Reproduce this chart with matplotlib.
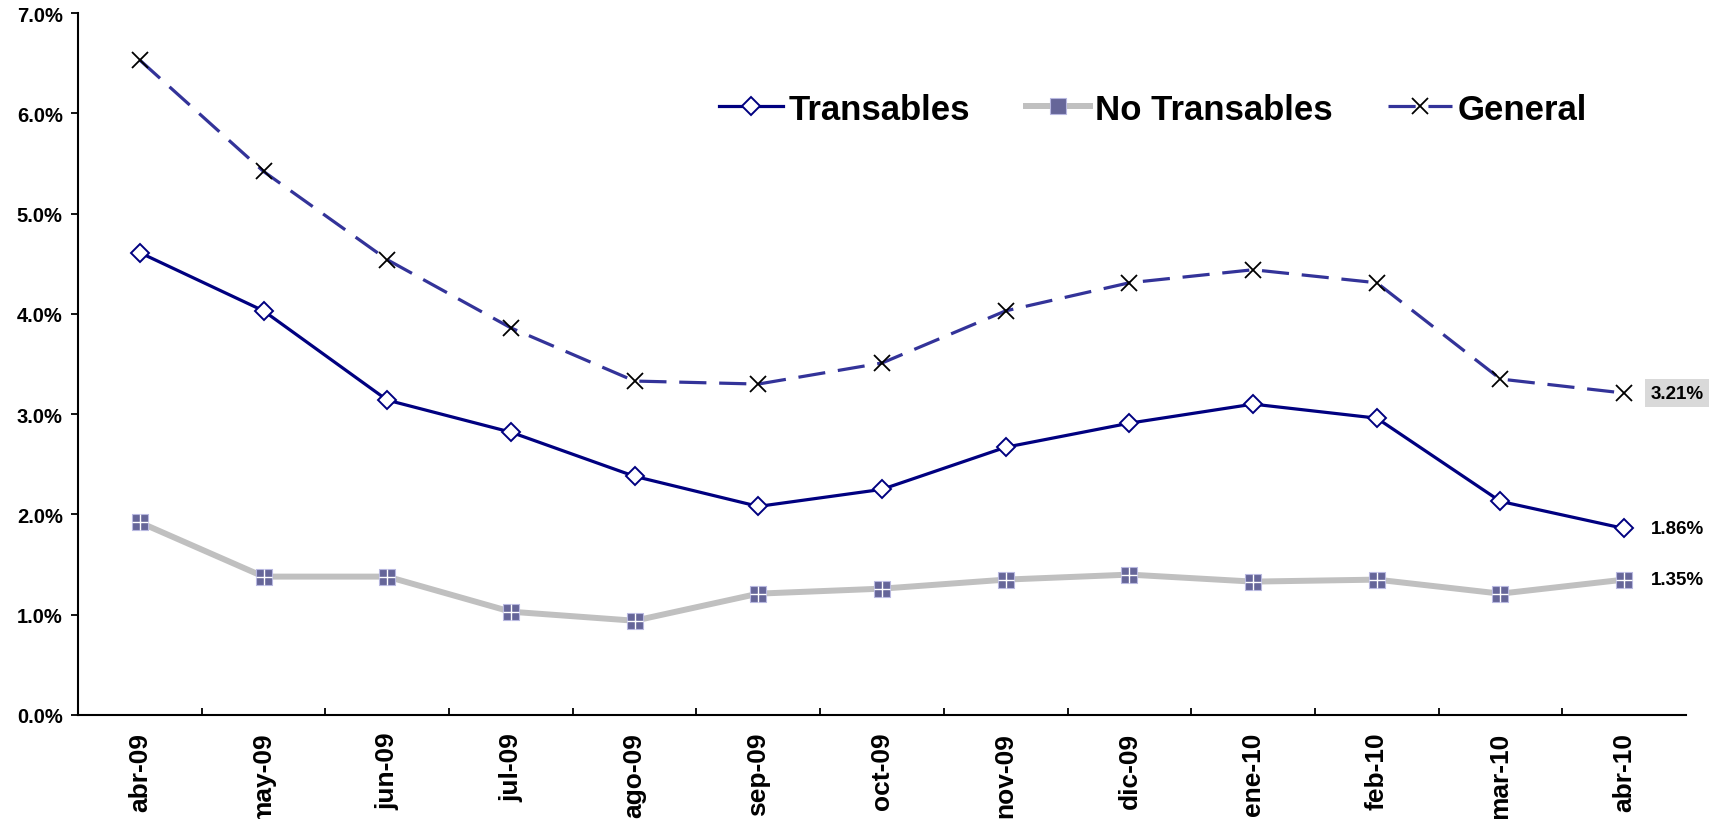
import numpy as np
import matplotlib
matplotlib.use('Agg')
from matplotlib import pyplot as plt
from matplotlib.ticker import FixedLocator, PercentFormatter

plt.rcParams['font.family'] = ['Liberation Sans', 'DejaVu Sans']
plt.rcParams['font.weight'] = 'bold'

meses = ['abr-09', 'may-09', 'jun-09', 'jul-09', 'ago-09', 'sep-09', 'oct-09',
         'nov-09', 'dic-09', 'ene-10', 'feb-10', 'mar-10', 'abr-10']
transables = [4.61, 4.03, 3.14, 2.82, 2.38, 2.08, 2.25, 2.67, 2.91, 3.10, 2.96, 2.13, 1.86]
no_transables = [1.92, 1.38, 1.38, 1.03, 0.94, 1.21, 1.26, 1.35, 1.40, 1.33, 1.35, 1.21, 1.35]
general = [6.53, 5.42, 4.54, 3.86, 3.33, 3.30, 3.51, 4.03, 4.31, 4.44, 4.31, 3.35, 3.21]

x = np.arange(len(meses))

fig = plt.figure(figsize=(17.14, 8.2), dpi=100)
ax = fig.add_axes([78/1714, 1-716/820, (1686-78)/1714, (716-14)/820])

# no transables: thick gray line, square markers with white cross
ax.plot(x, no_transables, color='#C0C0C0', lw=4.3, zorder=2,
        marker='s', ms=11.5, mfc='#666699', mec='#B8B8E0', mew=0.8,
        label='No Transables')
ax.plot(x, no_transables, ls='none', marker='+', ms=11.5, mec='white',
        mew=1.0, zorder=3)

ax.plot(x, transables, color='#000080', lw=2.3, zorder=4,
        marker='D', ms=9, mfc='white', mec='#000080', mew=1.4,
        label='Transables')

ax.plot(x, general, color='#333399', lw=2.3, dashes=(8.5, 4), zorder=4,
        marker='x', ms=12, mec='black', mew=1.3, label='General')

ax.set_xlim(-0.5, len(meses) - 0.5)
ax.set_ylim(0, 7)
ax.yaxis.set_major_locator(FixedLocator(np.arange(0, 7.01, 1)))
ax.yaxis.set_major_formatter(PercentFormatter(decimals=1))
ax.set_xticks(x)
ax.set_xticklabels(meses, rotation=90, fontsize=19, fontweight='bold', va='top')
ax.xaxis.set_minor_locator(FixedLocator(np.arange(0.5, len(meses) - 0.5, 1)))
ax.tick_params(axis='x', which='major', length=0, pad=12)
ax.tick_params(axis='x', which='minor', direction='in', length=5, width=1.3)
ax.tick_params(axis='y', direction='out', length=5, width=1.3, labelsize=14.5, pad=6)
for lab in ax.get_yticklabels():
    lab.set_fontweight('bold')

for s in ['top', 'right']:
    ax.spines[s].set_visible(False)
for s in ['left', 'bottom']:
    ax.spines[s].set_linewidth(1.5)

# end labels
ax.annotate('%.2f%%' % general[-1], (x[-1], general[-1]), xytext=(19, 0),
            textcoords='offset points', va='center', ha='left', fontsize=13.5,
            fontweight='bold',
            bbox=dict(boxstyle='square,pad=0.3', fc='#D9D9D9', ec='none'))
ax.annotate('%.2f%%' % transables[-1], (x[-1], transables[-1]), xytext=(19, 0),
            textcoords='offset points', va='center', ha='left', fontsize=13.5,
            fontweight='bold')
ax.annotate('%.2f%%' % no_transables[-1], (x[-1], no_transables[-1]), xytext=(19, 0),
            textcoords='offset points', va='center', ha='left', fontsize=13.5,
            fontweight='bold')

h, l = ax.get_legend_handles_labels()
order = [1, 0, 2]
fig.legend([h[i] for i in order], [l[i] for i in order], ncol=3, frameon=False,
           loc='center', bbox_to_anchor=(1153/1714, 1-110/820),
           prop={'size': 25, 'weight': 'bold'}, handlelength=1.85,
           handletextpad=0.15, columnspacing=1.6)

fig.savefig('out.png', dpi=100)
